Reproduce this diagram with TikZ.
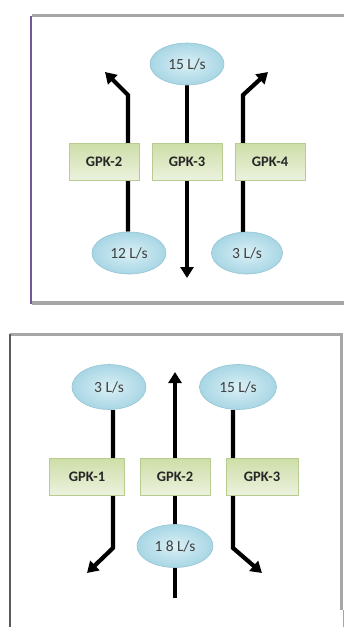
\documentclass[tikz,border=0pt]{standalone}
\usepackage{fontspec}
\setmainfont{Carlito}
\usetikzlibrary{arrows.meta,shapes.geometric,backgrounds}
\definecolor{boxtop}{RGB}{206,222,168}
\definecolor{boxbot}{RGB}{236,242,222}
\definecolor{boxline}{RGB}{184,204,146}
\definecolor{dropin}{RGB}{218,240,246}
\definecolor{dropout}{RGB}{168,214,228}
\definecolor{dropline}{RGB}{150,196,212}
\definecolor{framegray}{RGB}{166,166,166}
\definecolor{framepurple}{RGB}{110,90,150}
\definecolor{framedark}{RGB}{90,90,90}
\tikzset{
    pump/.style={rectangle,draw=boxline,line width=0.8pt,top color=boxtop,bottom color=boxbot,
        minimum width=70pt,minimum height=37pt,inner sep=0pt,font=\bfseries\fontsize{14.5}{14.5}\selectfont,text=black!85},
    flowrate/.style={ellipse,draw=dropline,line width=0.6pt,inner color=dropin,outer color=dropout,
        minimum width=74pt,minimum height=42pt,inner sep=0pt,font=\fontsize{15.5}{15.5}\selectfont,text=black!75},
    pipe/.style={line width=4.2pt,-{Triangle[length=11pt,width=13pt]}}
}
\begin{document}
\begin{tikzpicture}[x=1pt,y=-1pt]
    \useasboundingbox (0,0) rectangle (344,627);
    % top panel
    \node[flowrate] (ein15) at (187,64) {15 L/s};
    \node[pump] (gpkii) at (104,162) {GPK-2};
    \node[pump] (gpkiii) at (187,162) {GPK-3};
    \node[pump] (gpkiv) at (270,162) {GPK-4};
    \node[flowrate] (ein12) at (129,253) {12 L/s};
    \node[flowrate,minimum width=71pt] (einiii) at (247,253) {3 L/s};
    \coordinate (bendii) at (128,95);
    \coordinate (tipii) at (105,72);
    \coordinate (footiv) at (243,233);
    \coordinate (bendiv) at (243,95);
    \coordinate (tipiv) at (268,72);
    \coordinate (tipiii) at (187,278);
    % bottom panel
    \node[flowrate,minimum height=45pt] (outiii) at (109,387) {3 L/s};
    \node[flowrate,minimum width=77pt,minimum height=45pt] (out15) at (238,387) {15 L/s};
    \node[pump,minimum width=75pt] (gpki) at (87,477) {GPK-1};
    \node[pump] (gpkiib) at (175,477) {GPK-2};
    \node[pump,minimum width=72pt] (gpkiiib) at (262,477) {GPK-3};
    \node[flowrate,minimum width=76pt,minimum height=43pt] (in18) at (175,546) {1 8 L/s};
    \coordinate (feed18) at (175,598);
    \coordinate (tipmid) at (175,372);
    \coordinate (topi) at (113,410);
    \coordinate (bendi) at (113,548);
    \coordinate (tipi) at (87,573);
    \coordinate (bendiiib) at (233,548);
    \coordinate (tipiiib) at (262,573);
    \begin{scope}[on background layer]
        % frames
        \draw[framepurple,line width=2pt] (31,16) -- (31,304);
        \draw[framegray,line width=3pt] (32,15) -- (344,15);
        \draw[framegray,line width=3.5pt] (32,303) -- (344,303);
        \draw[framegray,line width=3pt] (10,334) -- (341,334);
        \draw[framedark,line width=2pt] (10,334) -- (10,627);
        \draw[framegray,line width=3pt] (341,333) -- (341,610);
        \draw[framegray,line width=1pt] (343,610) -- (343,627);
        % flows, top
        \draw[pipe] (ein12.north -| bendii) -- (bendii) -- (tipii);
        \draw[pipe] (ein15.south) -- (tipiii);
        \draw[pipe] (footiv) -- (bendiv) -- (tipiv);
        % flows, bottom
        \draw[pipe] (feed18) -- (tipmid);
        \draw[pipe] (topi) -- (bendi) -- (tipi);
        \draw[pipe] (out15.south -| bendiiib) -- (bendiiib) -- (tipiiib);
    \end{scope}
\end{tikzpicture}
\end{document}
